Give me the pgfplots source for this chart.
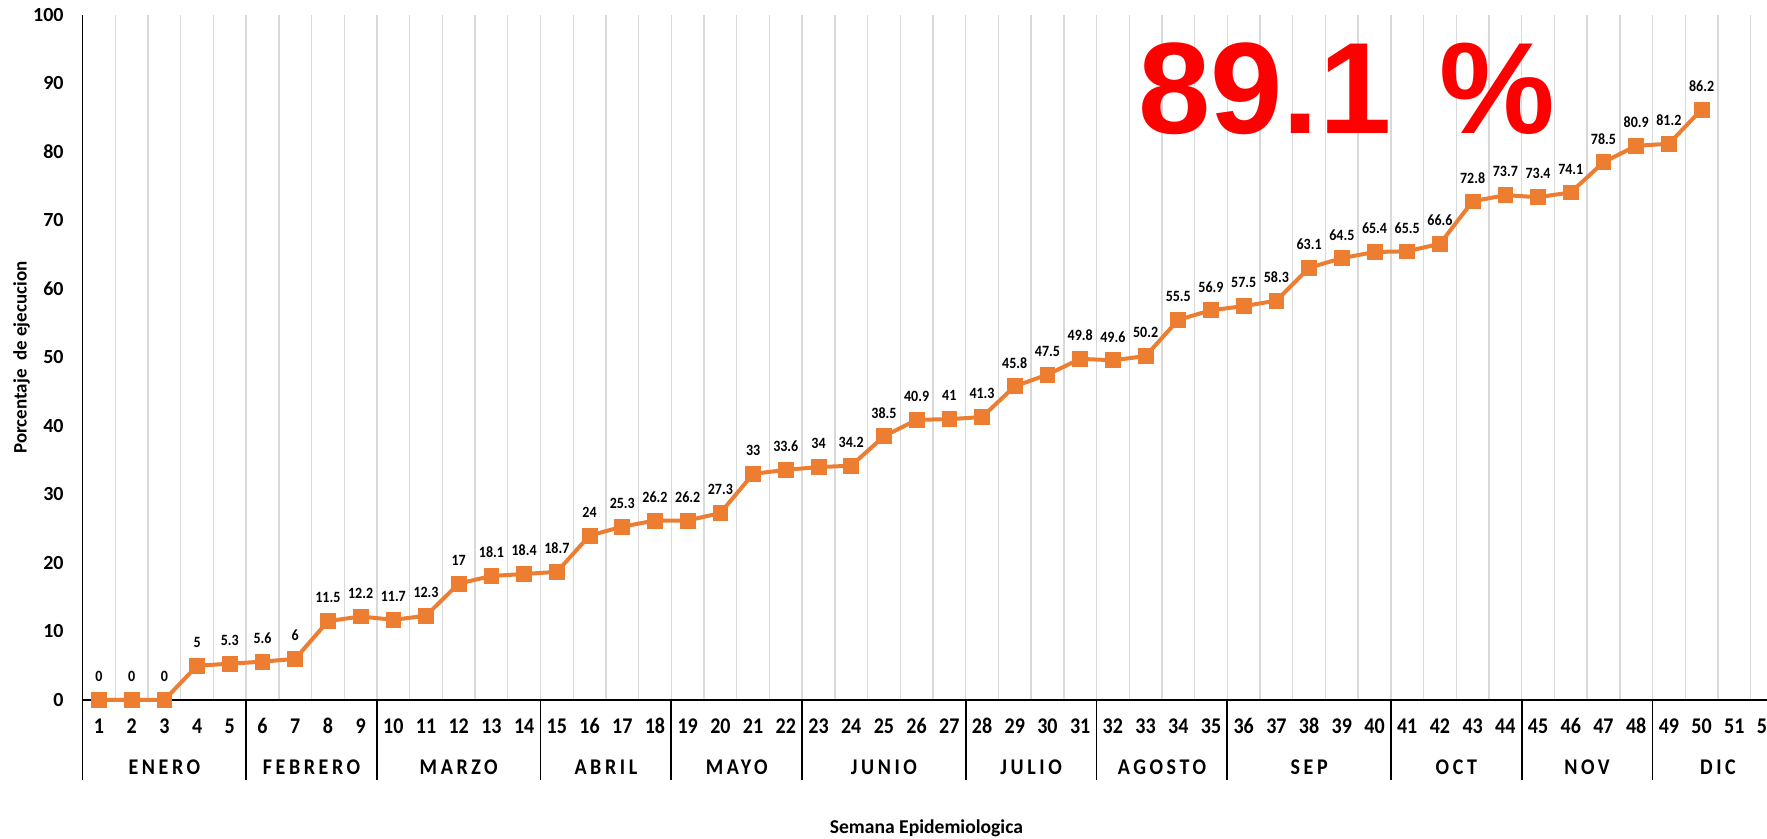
\documentclass[border=0pt]{standalone}
\usepackage{fontspec}
\setmainfont{Carlito}
\newfontfamily\bigfont{Liberation Sans}
\newfontfamily\spacedfont[LetterSpace=18]{Carlito}
\usepackage{pgfplots}
\usepackage{pgfplotstable}
\pgfplotsset{compat=1.18}
\definecolor{lineorange}{RGB}{237,125,49}
\definecolor{gridgray}{RGB}{217,217,217}
\newcommand\tall[1]{\scalebox{1}[1.12]{#1}}

% avance semanal (porcentaje de ejecucion)
\pgfplotstableread{
week val
1 0
2 0
3 0
4 5
5 5.3
6 5.6
7 6
8 11.5
9 12.2
10 11.7
11 12.3
12 17
13 18.1
14 18.4
15 18.7
16 24
17 25.3
18 26.2
19 26.2
20 27.3
21 33
22 33.6
23 34
24 34.2
25 38.5
26 40.9
27 41
28 41.3
29 45.8
30 47.5
31 49.8
32 49.6
33 50.2
34 55.5
35 56.9
36 57.5
37 58.3
38 63.1
39 64.5
40 65.4
41 65.5
42 66.6
43 72.8
44 73.7
45 73.4
46 74.1
47 78.5
48 80.9
49 81.2
50 86.2
}\datatable

\begin{document}
\begin{tikzpicture}
\begin{axis}[
  scale only axis,
  width=842.2pt, height=342.5pt,
  xmin=0.5, xmax=52, ymin=0, ymax=100,
  axis x line*=bottom, axis y line*=left,
  x axis line style={-, line width=1.3pt},
  y axis line style={-, line width=0.9pt},
  xtick={1,...,52}, ytick={0,10,...,100},
  minor xtick={1.5,2.5,...,51.5},
  xminorgrids=true,
  minor x grid style={gridgray, line width=0.7pt},
  major tick length=0pt, minor tick length=0pt,
  /pgf/number format/assume math mode=true,
  ticklabel style={font=\bfseries\fontsize{10}{12}\selectfont},
  xticklabel={\tall{\pgfmathprintnumber{\tick}}},
  xticklabel style={anchor=base, yshift=-16.8pt},
  yticklabel style={xshift=-6pt},
  clip=false,
  nodes near coords={\tall{\pgfmathprintnumber{\pgfplotspointmeta}}},
  every node near coord/.append style={font=\bfseries\fontsize{7}{8}\selectfont,
    anchor=center, yshift=11.7pt, text=black},
]
\addplot[color=lineorange, line width=2pt, mark=square*, mark size=3.7pt,
  mark options={fill=lineorange, draw=lineorange, line width=0.4pt}]
  table[x=week, y=val] {\datatable};

% separadores de meses
\pgfplotsinvokeforeach{0.5,5.5,9.5,14.5,18.5,22.5,27.5,31.5,35.5,40.5,44.5,48.5}{
  \draw[line width=0.9pt] (axis cs:#1,0) -- ([yshift=-40pt]axis cs:#1,0);
}
\tikzset{mes/.style={anchor=base, yshift=-37.5pt,
  font=\spacedfont\bfseries\fontsize{10}{12}\selectfont}}
\node[mes] at (axis cs:3,0) {\tall{ENERO}};
\node[mes] at (axis cs:7.5,0) {\tall{FEBRERO}};
\node[mes] at (axis cs:12,0) {\tall{MARZO}};
\node[mes] at (axis cs:16.5,0) {\tall{ABRIL}};
\node[mes] at (axis cs:20.5,0) {\tall{MAYO}};
\node[mes] at (axis cs:25,0) {\tall{JUNIO}};
\node[mes] at (axis cs:29.5,0) {\tall{JULIO}};
\node[mes] at (axis cs:33.5,0) {\tall{AGOSTO}};
\node[mes] at (axis cs:38,0) {\tall{SEP}};
\node[mes] at (axis cs:42.5,0) {\tall{OCT}};
\node[mes] at (axis cs:46.5,0) {\tall{NOV}};
\node[mes] at (axis cs:50.5,0) {\tall{DIC}};

\node[anchor=base, yshift=-67pt, font=\bfseries\fontsize{9.8}{11}\selectfont]
  at (axis cs:26.3,0) {Semana Epidemiologica};
\node[xshift=-30.5pt, rotate=90, font=\bfseries\fontsize{9.5}{11}\selectfont]
  at (rel axis cs:0,0.5) {Porcentaje\ \ de ejecucion};

\node[text=red, font=\bigfont\bfseries\fontsize{65}{72}\selectfont]
  at (axis cs:39.15,89.3) {89.1\hspace{24pt}\%};

\coordinate (bbsw) at (rel axis cs:0,0);
\coordinate (bbne) at (rel axis cs:1,1);
\end{axis}
\pgfresetboundingbox
\path[use as bounding box] ([shift={(-41.3pt,-69.5pt)}]bbsw) rectangle ([yshift=7.5pt]bbne);
\end{tikzpicture}
\end{document}
